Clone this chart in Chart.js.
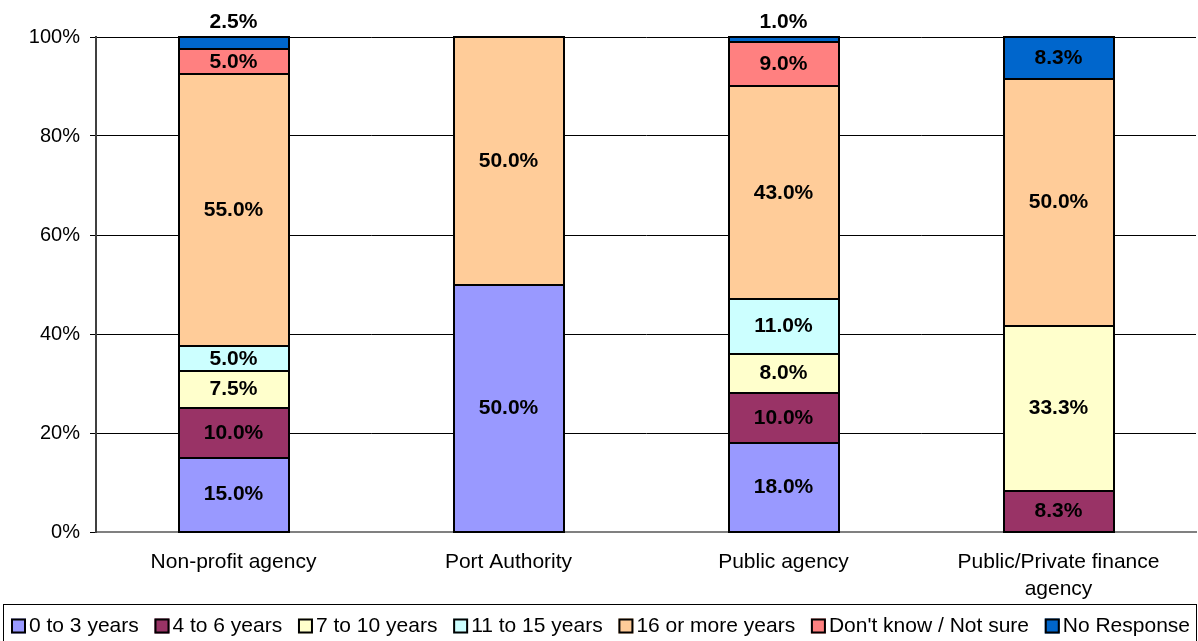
<!DOCTYPE html>
<html lang="en">
<head>
    <meta charset="UTF-8">
    <title>Years of experience by agency type</title>
    <script src="https://cdn.jsdelivr.net/npm/chart.js"></script>
    <style>
        body { margin: 0; background: #fff; }
        #wrap { width: 1198px; height: 641px; position: relative; }
    </style>
</head>
<body>
    <div id="wrap"><canvas id="barChart"></canvas></div>

    <script>
        const agencies = [["Non-profit agency"], ["Port Authority"], ["Public agency"], ["Public/Private finance", "agency"]];
        const seriesNames = ["0 to 3 years", "4 to 6 years", "7 to 10 years", "11 to 15 years", "16 or more years", "Don't know / Not sure", "No Response"];
        const seriesColors = ["#9999FF", "#993366", "#FFFFCC", "#CCFFFF", "#FFCC99", "#FF8080", "#0066CC"];
        // null = no answer in that group (nothing drawn)
        const yrs0to3 = [15.0, 50.0, 18.0, null];
        const yrs4to6 = [10.0, null, 10.0, 8.3];
        const yrs7to10 = [7.5, null, 8.0, 33.3];
        const yrs11to15 = [5.0, null, 11.0, null];
        const yrs16plus = [55.0, 50.0, 43.0, 50.0];
        const notSure = [5.0, null, 9.0, null];
        const noResponse = [2.5, null, 1.0, 8.3];
        const yTicks = [0, 20, 40, 60, 80, 100];

        const font = "Arial, 'Liberation Sans', sans-serif";
        const allSeries = [yrs0to3, yrs4to6, yrs7to10, yrs11to15, yrs16plus, notSure, noResponse];

        const datasets = allSeries.map((vals, i) => ({
            label: seriesNames[i],
            data: vals,
            backgroundColor: seriesColors[i],
            borderWidth: 0,
            categoryPercentage: 1.0,
            barPercentage: 0.4
        }));

        // crisp 2px outlines round each segment, then the value labels
        const outlinesAndLabels = {
            id: "outlinesAndLabels",
            afterDatasetsDraw(chart) {
                const ctx = chart.ctx;
                ctx.save();
                ctx.strokeStyle = "#000";
                ctx.lineWidth = 2;
                chart.data.datasets.forEach((ds, di) => {
                    chart.getDatasetMeta(di).data.forEach((bar, i) => {
                        if (!ds.data[i]) return;
                        const l = Math.round(bar.x - bar.width / 2);
                        const r = Math.round(bar.x + bar.width / 2);
                        const t = Math.round(bar.y);
                        const b = Math.round(bar.base);
                        ctx.strokeRect(l, t, r - l, b - t);
                    });
                });
                ctx.font = "bold 21px " + font;
                ctx.fillStyle = "#000";
                ctx.textAlign = "center";
                ctx.textBaseline = "middle";
                chart.data.datasets.forEach((ds, di) => {
                    chart.getDatasetMeta(di).data.forEach((bar, i) => {
                        const v = ds.data[i];
                        if (!v) return;
                        const h = bar.base - bar.y;
                        let y = (bar.y + bar.base) / 2;
                        if (h < 16) y = bar.y - 15;
                        ctx.fillText(v.toFixed(1) + "%", bar.x, y);
                    });
                });
                ctx.restore();
            }
        };

        // boxed legend along the bottom
        const boxedLegend = {
            id: "boxedLegend",
            afterDraw(chart) {
                const ctx = chart.ctx;
                const top = 604, midY = 626, box = 15, gapText = 3;
                const x0 = 11, x1 = 1190;
                ctx.save();
                ctx.strokeStyle = "#000";
                ctx.lineWidth = 1;
                ctx.strokeRect(3.5, top + 0.5, 1193, 50);
                ctx.font = "21px " + font;
                ctx.textBaseline = "middle";
                const widths = seriesNames.map(t => box + gapText + ctx.measureText(t).width);
                const total = widths.reduce((a, b) => a + b, 0);
                const gap = (x1 - x0 - total) / (seriesNames.length - 1);
                let x = x0;
                seriesNames.forEach((name, i) => {
                    ctx.fillStyle = seriesColors[i];
                    ctx.fillRect(x, midY - box / 2, box, box);
                    ctx.lineWidth = 2;
                    ctx.strokeStyle = "#000";
                    ctx.strokeRect(x + 1, midY - box / 2 + 1, box - 2, box - 2);
                    ctx.fillStyle = "#000";
                    ctx.fillText(name, x + box + gapText, midY);
                    x += widths[i] + gap;
                });
                ctx.restore();
            }
        };

        new Chart(document.getElementById("barChart"), {
            type: "bar",
            data: { labels: agencies, datasets: datasets },
            plugins: [outlinesAndLabels, boxedLegend],
            options: {
                responsive: true,
                maintainAspectRatio: false,
                animation: false,
                layout: { padding: { left: 0, right: 2, top: 37, bottom: 37 } },
                plugins: {
                    tooltip: { enabled: false },
                    legend: { display: false }
                },
                scales: {
                    x: {
                        stacked: true,
                        grid: { display: false, drawTicks: false },
                        border: { color: "#808080", width: 2 },
                        afterFit: axis => { axis.height = 72; },
                        ticks: {
                            font: { family: font, size: 21, lineHeight: 1.28 },
                            color: "#000",
                            padding: 17,
                            maxRotation: 0
                        }
                    },
                    y: {
                        stacked: true,
                        min: 0,
                        max: 100,
                        afterBuildTicks: axis => { axis.ticks = yTicks.map(v => ({ value: v })); },
                        afterFit: axis => { axis.width = 96; },
                        grid: { color: "#000", lineWidth: 1, tickLength: 6, tickColor: "#000" },
                        border: { color: "#404040", width: 2 },
                        ticks: {
                            font: { family: font, size: 20 },
                            color: "#000",
                            padding: 10,
                            callback: v => v + "%"
                        }
                    }
                }
            }
        });
    </script>
</body>
</html>
